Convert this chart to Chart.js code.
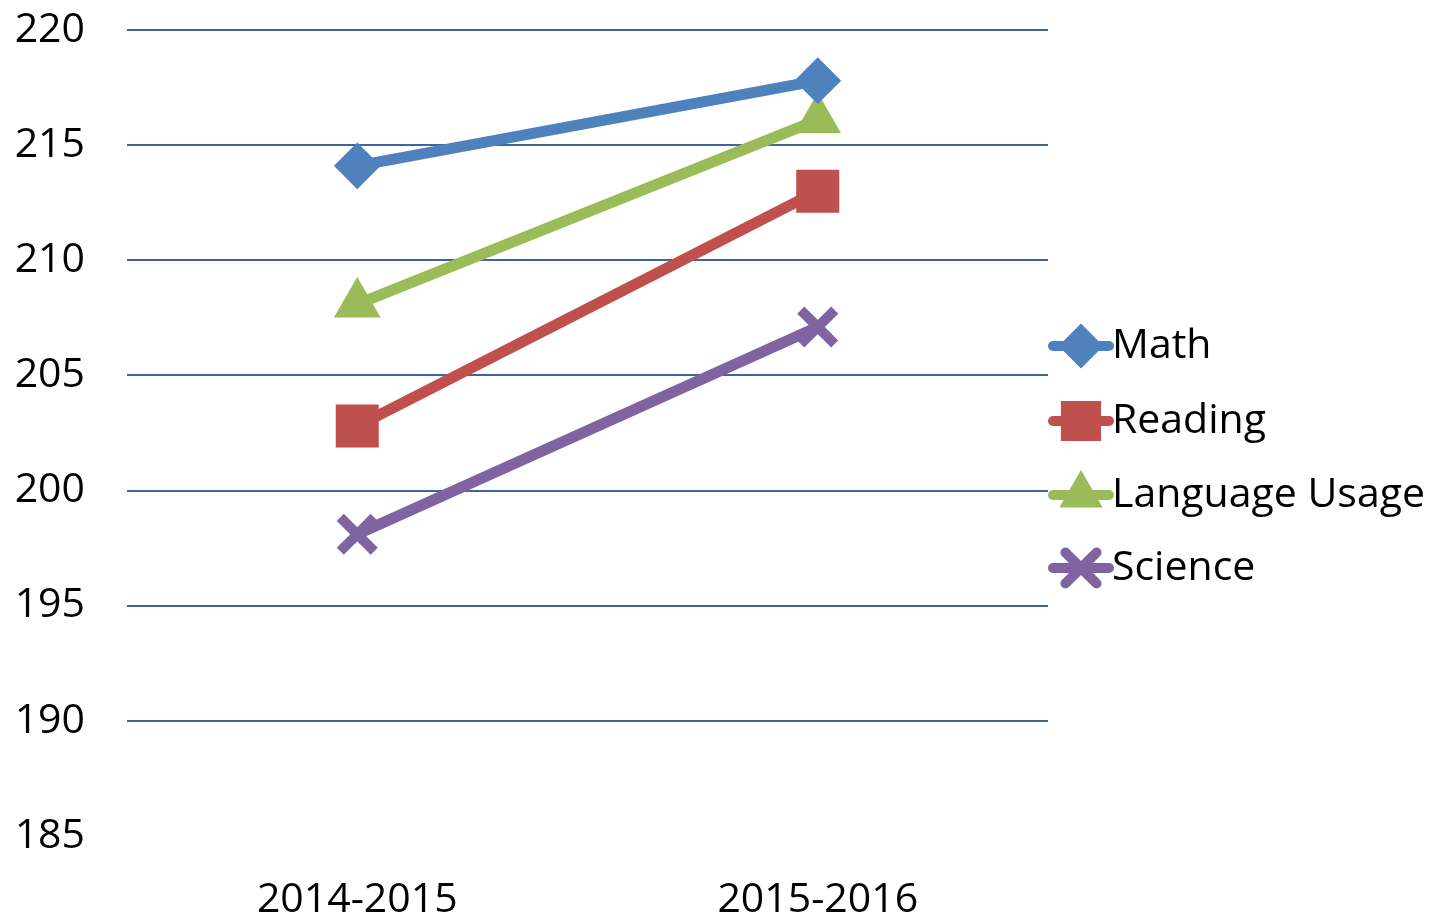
<!DOCTYPE html>
<html>
<head>
<meta charset="utf-8">
<script src="https://cdn.jsdelivr.net/npm/chart.js@4/dist/chart.umd.min.js"></script>
<style>
  html, body { margin: 0; padding: 0; background: #ffffff; }
  #wrap { width: 1431px; height: 923px; }
</style>
</head>
<body>
<div id="wrap"><canvas id="chart"></canvas></div>
<script>
// Chart data
const years = ['2014-2015', '2015-2016'];
const math = [214.1, 217.8];
const reading = [202.8, 213.0];
const languageUsage = [208.1, 216.1];
const science = [198.1, 207.1];

const FONT = "'Open Sans', sans-serif";

// Legend drawn on the right: line segment with the marker in the middle
const sideLegend = {
  id: 'sideLegend',
  afterDraw(chart) {
    const ctx = chart.ctx;
    const x0 = 1053, x1 = 1109, xm = 1081;
    const rows = [346, 421, 495, 568];
    chart.data.datasets.forEach((ds, i) => {
      const y = rows[i];
      ctx.save();
      ctx.strokeStyle = ds.borderColor;
      ctx.lineWidth = 10;
      ctx.lineCap = 'round';
      ctx.beginPath();
      ctx.moveTo(x0, y);
      ctx.lineTo(x1, y);
      ctx.stroke();
      ctx.fillStyle = ds.pointBackgroundColor;
      ctx.strokeStyle = ds.pointBorderColor;
      ctx.lineWidth = ds.pointBorderWidth;
      Chart.helpers.drawPoint(ctx, {
        pointStyle: ds.pointStyle,
        radius: ds.legendRadius,
        rotation: 0,
        borderWidth: ds.pointBorderWidth
      }, xm, y);
      ctx.fillStyle = '#000000';
      ctx.font = '41px ' + FONT;
      ctx.textBaseline = 'middle';
      ctx.textAlign = 'left';
      ctx.fillText(ds.label, 1112, y);
      ctx.restore();
    });
  }
};

function series(label, data, color, style, radius, legendRadius, borderWidth) {
  return {
    label: label,
    data: data,
    borderColor: color,
    backgroundColor: color,
    borderWidth: 11,
    pointStyle: style,
    pointRadius: radius,
    pointHoverRadius: radius,
    pointBackgroundColor: color,
    pointBorderColor: color,
    pointBorderWidth: borderWidth,
    legendRadius: legendRadius,
    tension: 0
  };
}

new Chart(document.getElementById('chart'), {
  type: 'line',
  data: {
    labels: years,
    datasets: [
      series('Math', math, '#4f81bd', 'rectRot', 22, 21, 2),
      series('Reading', reading, '#c0504d', 'rect', 29, 27, 2),
      series('Language Usage', languageUsage, '#9bbb59', 'triangle', 25, 23, 2),
      series('Science', science, '#8064a2', 'crossRot', 24, 22, 10)
    ]
  },
  options: {
    responsive: true,
    maintainAspectRatio: false,
    animation: false,
    layout: { autoPadding: false, padding: { top: 30, right: 383, bottom: 0, left: 0 } },
    plugins: {
      legend: { display: false },
      tooltip: { enabled: false }
    },
    scales: {
      x: {
        offset: true,
        grid: { display: false, drawTicks: false },
        border: { display: false },
        ticks: { color: '#000000', font: { family: FONT, size: 41 }, padding: 40 },
        afterFit: (scale) => { scale.height = 87; scale.paddingLeft = 0; scale.paddingRight = 0; }
      },
      y: {
        min: 185,
        max: 220,
        border: { display: false },
        grid: {
          drawTicks: false,
          lineWidth: 2,
          color: (c) => (c.tick && c.tick.value === 185) ? 'rgba(0,0,0,0)' : '#3e659c'
        },
        ticks: {
          stepSize: 5,
          color: '#000000',
          font: { family: FONT, size: 41 },
          padding: 42
        },
        afterFit: (scale) => { scale.width = 127; scale.paddingTop = 0; scale.paddingBottom = 0; }
      }
    }
  },
  plugins: [sideLegend]
});
</script>
</body>
</html>
